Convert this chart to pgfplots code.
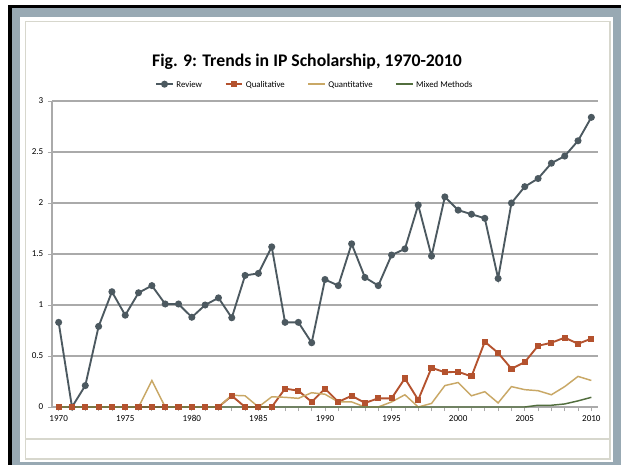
\documentclass[border=0pt]{standalone}
\usepackage{pgfplots}
\pgfplotsset{compat=1.18}
\usepackage{fontspec}
\setmainfont{Carlito}

\definecolor{frameblue}{RGB}{152,169,179}
\definecolor{matline}{RGB}{215,215,205}
\definecolor{gridgray}{RGB}{170,170,170}
\definecolor{review}{RGB}{76,89,96}
\definecolor{quali}{RGB}{180,82,46}
\definecolor{quanti}{RGB}{201,168,102}
\definecolor{mixed}{RGB}{82,110,62}

\begin{document}
\begin{tikzpicture}
% frame, in pixels of the 621x465 picture (y measured from the bottom)
\begin{scope}[x=0.75pt, y=0.75pt]
  \fill[white] (0,0) rectangle (621,465);
  \fill[black] (8,0) rectangle (621,460);
  \fill[frameblue] (12,0) rectangle (621,457);
  \fill[white] (20,3) rectangle (613,448);
  \draw[matline, line width=0.8pt] (25.5,6) rectangle (610,443.5);
  \draw[matline, line width=0.8pt] (25.5,26) -- (610,26);
  \node[font=\bfseries\fontsize{13.3}{15}\selectfont] at (307,403)
    {Fig. 9: Trends in IP Scholarship, 1970-2010};
\end{scope}

\begin{axis}[
  at={(39pt,43.5pt)}, anchor=south west,
  scale only axis,
  width=409.5pt, height=229.5pt,
  xmin=1969.5, xmax=2010.5,
  ymin=0, ymax=3,
  clip=false,
  axis lines=left,
  axis line style={-, draw=gridgray, line width=0.8pt},
  xtick={1970,1975,...,2010},
  minor x tick num=4,
  ytick={0,0.5,...,3},
  tick align=outside,
  major tick length=3pt, minor tick length=3pt,
  tick style={draw=gridgray, line width=0.6pt},
  ymajorgrids,
  grid style={draw=gridgray, line width=0.8pt},
  ticklabel style={font=\fontsize{6.8}{8}\selectfont},
  /pgf/number format/assume math mode=true,
  xticklabel style={/pgf/number format/1000 sep={}},
  legend columns=4,
  legend style={
    at={(axis description cs:0.482,1.055)}, anchor=center,
    draw=none, fill=none,
    font=\fontsize{6.6}{8}\selectfont,
    nodes={text depth=0pt},
    /tikz/every even column/.append style={column sep=15pt},
  },
  legend image code/.code={
    \draw[mark repeat=2, mark phase=2]
      plot coordinates {(0cm,0cm) (0.22cm,0cm) (0.44cm,0cm)};
  },
]

% Review
\addplot[review, line width=1.4pt, mark=*, mark size=1.9pt,
  mark options={fill=review, draw=review}] coordinates {
  (1970,0.83) (1971,0) (1972,0.21) (1973,0.79) (1974,1.13) (1975,0.90)
  (1976,1.12) (1977,1.19) (1978,1.01) (1979,1.01) (1980,0.88) (1981,1.00)
  (1982,1.07) (1983,0.875) (1984,1.29) (1985,1.31) (1986,1.57) (1987,0.83)
  (1988,0.83) (1989,0.63) (1990,1.25) (1991,1.19) (1992,1.60) (1993,1.27)
  (1994,1.19) (1995,1.49) (1996,1.55) (1997,1.98) (1998,1.48) (1999,2.06)
  (2000,1.93) (2001,1.89) (2002,1.85) (2003,1.26) (2004,2.00) (2005,2.16)
  (2006,2.24) (2007,2.39) (2008,2.46) (2009,2.61) (2010,2.84)
};
\addlegendentry{Review}

% Qualitative
\addplot[quali, line width=1.4pt, mark=square*, mark size=1.6pt,
  mark options={fill=quali, draw=quali}] coordinates {
  (1970,0) (1971,0) (1972,0) (1973,0) (1974,0) (1975,0) (1976,0) (1977,0)
  (1978,0) (1979,0) (1980,0) (1981,0) (1982,0) (1983,0.11) (1984,0) (1985,0)
  (1986,0) (1987,0.18) (1988,0.16) (1989,0.05) (1990,0.18) (1991,0.05)
  (1992,0.11) (1993,0.04) (1994,0.085) (1995,0.085) (1996,0.28) (1997,0.07)
  (1998,0.385) (1999,0.34) (2000,0.345) (2001,0.30) (2002,0.64) (2003,0.53)
  (2004,0.375) (2005,0.44) (2006,0.60) (2007,0.63) (2008,0.68) (2009,0.62)
  (2010,0.67)
};
\addlegendentry{Qualitative}

% Quantitative
\addplot[quanti, line width=1.1pt, mark=none] coordinates {
  (1970,0) (1971,0) (1972,0) (1973,0) (1974,0) (1975,0) (1976,0) (1977,0.26)
  (1978,0) (1979,0) (1980,0) (1981,0) (1982,0) (1983,0.115) (1984,0.11)
  (1985,0) (1986,0.10) (1987,0.095) (1988,0.085) (1989,0.14) (1990,0.125)
  (1991,0.05) (1992,0.05) (1993,0) (1994,0) (1995,0.05) (1996,0.12) (1997,0)
  (1998,0.035) (1999,0.21) (2000,0.24) (2001,0.11) (2002,0.15) (2003,0.04)
  (2004,0.20) (2005,0.17) (2006,0.16) (2007,0.12) (2008,0.20) (2009,0.30)
  (2010,0.26)
};
\addlegendentry{Quantitative}

% Mixed Methods
\addplot[mixed, line width=1.1pt, mark=none] coordinates {
  (1970,0) (1975,0) (1980,0) (1985,0) (1990,0) (1995,0) (2000,0) (2005,0)
  (2006,0.017) (2007,0.017) (2008,0.03) (2009,0.06) (2010,0.095)
};
\addlegendentry{Mixed Methods}

\end{axis}
\end{tikzpicture}
\end{document}
